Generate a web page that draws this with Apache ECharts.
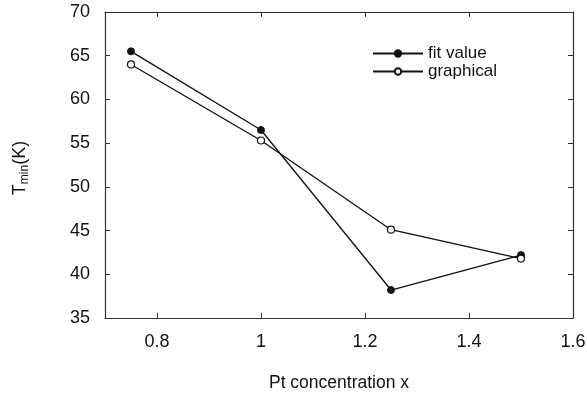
<!DOCTYPE html>
<html>
<head>
<meta charset="utf-8">
<script src="https://cdn.jsdelivr.net/npm/echarts@6/dist/echarts.min.js"></script>
<style>
  html, body { margin: 0; padding: 0; background: #fff; }
  #chart { width: 587px; height: 393px; }
</style>
</head>
<body>
<div id="chart"></div>
<script>
// Pt concentration and minimum temperature T_min
const concentration = [0.75, 1.0, 1.25, 1.5];
const fitValue = [65.5, 56.5, 38.2, 42.2];
const graphical = [64.0, 55.3, 45.1, 41.8];
const seriesNames = ['fit value', 'graphical'];
const xTicks = [0.8, 1.0, 1.2, 1.4, 1.6];

const font = 'Liberation Sans, Arial, sans-serif';
const ink = '#111';

function pairs(xs, ys) { return xs.map((x, i) => [x, ys[i]]); }

const chart = echarts.init(document.getElementById('chart'));
const tickStyle = { show: true, inside: true, length: 5, lineStyle: { color: '#333', width: 1 } };
const xTickStyle = Object.assign({}, tickStyle, { customValues: xTicks });
const lineStyleAxis = { show: true, lineStyle: { color: '#333', width: 1.2 } };

chart.setOption({
  animation: false,
  grid: { left: 105, right: 14, top: 12, bottom: 75, containLabel: false, outerBoundsMode: 'none' },
  legend: {
    orient: 'vertical',
    left: 367, top: 40,
    itemWidth: 50, itemHeight: 8, itemGap: 1,
    textStyle: { fontFamily: font, fontSize: 17, color: ink },
    data: seriesNames
  },
  xAxis: [{
    type: 'value', min: 0.7, max: 1.6, interval: 0.1,
    axisLine: lineStyleAxis,
    axisTick: xTickStyle,
    splitLine: { show: false },
    axisLabel: {
      margin: 15, fontFamily: font, fontSize: 18, color: ink,
      customValues: xTicks,
      formatter: v => String(Math.round(v * 10) / 10)
    },
    name: 'Pt concentration x', nameLocation: 'middle', nameGap: 56,
    nameTextStyle: { fontFamily: font, fontSize: 17.5, color: ink }
  }, {
    type: 'value', position: 'top', min: 0.7, max: 1.6, interval: 0.1,
    axisLine: lineStyleAxis,
    axisTick: xTickStyle,
    axisLabel: { show: false }, splitLine: { show: false }
  }],
  yAxis: [{
    type: 'value', min: 35, max: 70, interval: 5,
    axisLine: lineStyleAxis,
    axisTick: tickStyle,
    splitLine: { show: false },
    axisLabel: { margin: 15, fontFamily: font, fontSize: 18, color: ink },
    name: '{a|T}{b|min}{a|(K)}', nameLocation: 'middle', nameGap: 74, nameRotate: 90,
    nameTextStyle: {
      padding: [0, 0, 0, -6],
      rich: {
        a: { fontFamily: font, fontSize: 18, color: ink },
        b: { fontFamily: font, fontSize: 12, color: ink, padding: [9, 0, 0, 0] }
      }
    }
  }, {
    type: 'value', position: 'right', min: 35, max: 70, interval: 5,
    axisLine: lineStyleAxis,
    axisTick: tickStyle,
    axisLabel: { show: false }, splitLine: { show: false }
  }],
  series: [{
    name: seriesNames[0], type: 'line',
    data: pairs(concentration, fitValue),
    symbol: 'circle', symbolSize: 7,
    lineStyle: { color: '#111', width: 1.3 },
    itemStyle: { color: '#111', borderColor: '#111', borderWidth: 1 }
  }, {
    name: seriesNames[1], type: 'line',
    data: pairs(concentration, graphical),
    symbol: 'circle', symbolSize: 7,
    lineStyle: { color: '#111', width: 1.3 },
    itemStyle: { color: '#fff', borderColor: '#111', borderWidth: 1.2 }
  }]
});
</script>
</body>
</html>
